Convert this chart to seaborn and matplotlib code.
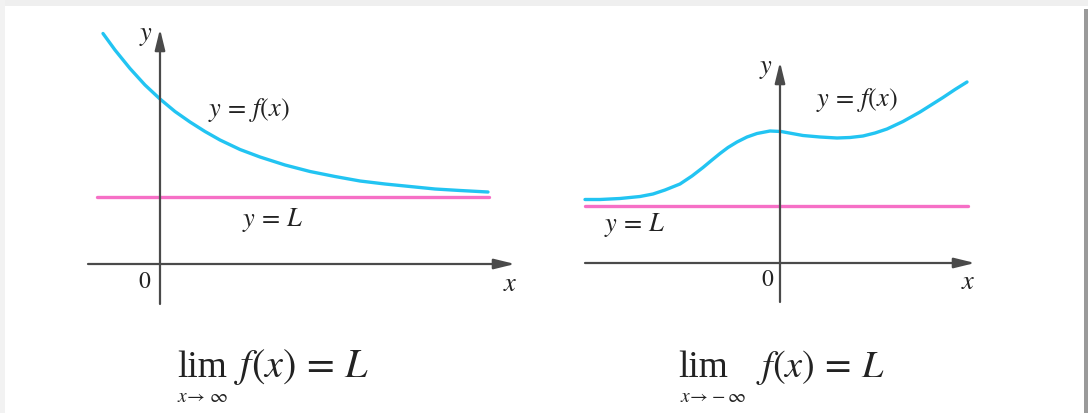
import matplotlib
matplotlib.use("Agg")
import matplotlib.pyplot as plt
import seaborn as sns
import pandas as pd
from matplotlib.patches import Rectangle

sns.set_theme(style="white")
plt.rcParams["mathtext.fontset"] = "stix"
plt.rcParams["font.family"] = ["Liberation Serif", "DejaVu Serif"]

# ---- data (in axis units) ----
left_x = [-1.14, -0.9, -0.6, -0.3, 0.0, 0.3, 0.6, 0.9, 1.2, 1.6, 2.0, 2.5,
          3.0, 3.5, 4.0, 4.5, 5.0, 5.5, 6.0, 6.56]
left_y = [4.61, 4.28, 3.91, 3.58, 3.30, 3.05, 2.84, 2.65, 2.48, 2.29, 2.14, 1.98,
          1.85, 1.75, 1.66, 1.60, 1.55, 1.50, 1.47, 1.44]
left_L = 1.34
left_L_x = [-1.26, 6.58]

right_x = [-3.9, -3.6, -3.2, -2.8, -2.54, -2.3, -2.0, -1.76, -1.54, -1.36, -1.2,
           -1.04, -0.86, -0.66, -0.46, -0.2, 0.02, 0.24, 0.46, 0.8, 1.14, 1.4,
           1.66, 1.9, 2.14, 2.46, 2.8, 3.26, 3.5, 3.74]
right_y = [1.27, 1.27, 1.29, 1.33, 1.38, 1.46, 1.58, 1.74, 1.91, 2.06, 2.19,
           2.31, 2.42, 2.52, 2.59, 2.64, 2.63, 2.59, 2.55, 2.52, 2.50, 2.51,
           2.54, 2.60, 2.68, 2.83, 3.02, 3.31, 3.47, 3.62]
right_L = 1.15
right_L_x = [-3.9, 3.76]

curve_color = "#22c4f2"
L_color = "#f66fc6"
axis_color = "#4a4a4a"
text_color = "#222222"

W, H = 1088, 414
fig = plt.figure(figsize=(W / 100, H / 100), dpi=100)
fig.patch.set_facecolor("white")

# faint frame / shadow around the picture
fig.patches.append(Rectangle((0, 1 - 7 / H), 1, 7 / H, transform=fig.transFigure,
                             facecolor="#efefef", edgecolor="none", zorder=0))
fig.patches.append(Rectangle((0, 0), 5 / W, 1, transform=fig.transFigure,
                             facecolor="#f2f2f2", edgecolor="none", zorder=0))
fig.patches.append(Rectangle((1 - 4 / W, 0), 4 / W, 1 - 10 / H, transform=fig.transFigure,
                             facecolor="#9a9a9a", edgecolor="none", zorder=0))


def make_axes(px0, py0, px1, py1, xlim, ylim):
    ax = fig.add_axes([px0 / W, 1 - py1 / H, (px1 - px0) / W, (py1 - py0) / H])
    ax.set_xlim(*xlim)
    ax.set_ylim(*ylim)
    ax.axis("off")
    ax.patch.set_alpha(0)
    return ax


def draw_axes_arrows(ax, xa, ya):
    arrow = dict(arrowstyle="-|>,head_length=0.9,head_width=0.22", color=axis_color,
                 lw=1.6, mutation_scale=14, shrinkA=0, shrinkB=0)
    ax.annotate("", xy=(xa[1], 0), xytext=(xa[0], 0), arrowprops=arrow)
    ax.annotate("", xy=(0, ya[1]), xytext=(0, ya[0]), arrowprops=arrow)


LBL = 19
# ---- left panel ----
axL = make_axes(80, 20, 530, 320, (-1.6, 7.4), (-1.1, 4.9))
draw_axes_arrows(axL, (-1.44, 7.1), (-0.8, 4.7))
sns.lineplot(x=left_L_x, y=[left_L, left_L], ax=axL, color=L_color, lw=2.4)
sns.lineplot(data=pd.DataFrame({"x": left_x, "y": left_y}), x="x", y="y", ax=axL,
             color=curve_color, lw=2.4, sort=False)
axL.text(1.78, 3.1, r"$y\,=\,f(x)$", fontsize=LBL, color=text_color, ha="center", va="center")
axL.text(2.26, 0.9, r"$y\,=\,L$", fontsize=LBL, color=text_color, ha="center", va="center")
axL.text(-0.3, -0.36, r"$\mathrm{0}$", fontsize=17, color=text_color, ha="center", va="center")
axL.text(7.0, -0.4, r"$x$", fontsize=LBL, color=text_color, ha="center", va="center")
axL.text(-0.28, 4.56, r"$y$", fontsize=LBL, color=text_color, ha="center", va="center")

# ---- right panel ----
axR = make_axes(570, 50, 990, 320, (-4.2, 4.2), (-1.12, 4.28))
draw_axes_arrows(axR, (-3.9, 3.9), (-0.78, 4.02))
sns.lineplot(x=right_L_x, y=[right_L, right_L], ax=axR, color=L_color, lw=2.4)
sns.lineplot(data=pd.DataFrame({"x": right_x, "y": right_y}), x="x", y="y", ax=axR,
             color=curve_color, lw=2.4, sort=False)
axR.text(1.54, 3.28, r"$y\,=\,f(x)$", fontsize=LBL, color=text_color, ha="center", va="center")
axR.text(-2.9, 0.78, r"$y\,=\,L$", fontsize=LBL, color=text_color, ha="center", va="center")
axR.text(-0.24, -0.34, r"$\mathrm{0}$", fontsize=17, color=text_color, ha="center", va="center")
axR.text(3.76, -0.38, r"$x$", fontsize=LBL, color=text_color, ha="center", va="center")
axR.text(-0.28, 3.88, r"$y$", fontsize=LBL, color=text_color, ha="center", va="center")


# ---- limit formulas ----
def fp(px, py):
    return px / W, 1 - py / H


fig.text(*fp(177, 377), "lim", fontsize=27, color=text_color, ha="left", va="baseline",
         family="Liberation Serif")
fig.text(*fp(203, 398), r"$x\!\rightarrow\,\infty$", fontsize=14, color=text_color,
         ha="center", va="center")
fig.text(*fp(234, 377), r"$f(x)\,=\,L$", fontsize=29, color=text_color, ha="left",
         va="baseline")

fig.text(*fp(678, 377), "lim", fontsize=27, color=text_color, ha="left", va="baseline",
         family="Liberation Serif")
fig.text(*fp(713, 398), r"$x\!\rightarrow\!-\infty$", fontsize=14, color=text_color,
         ha="center", va="center")
fig.text(*fp(756, 377), r"$f(x)\,=\,L$", fontsize=27.5, color=text_color, ha="left",
         va="baseline")

fig.savefig("out.png", dpi=100, facecolor=fig.get_facecolor())
